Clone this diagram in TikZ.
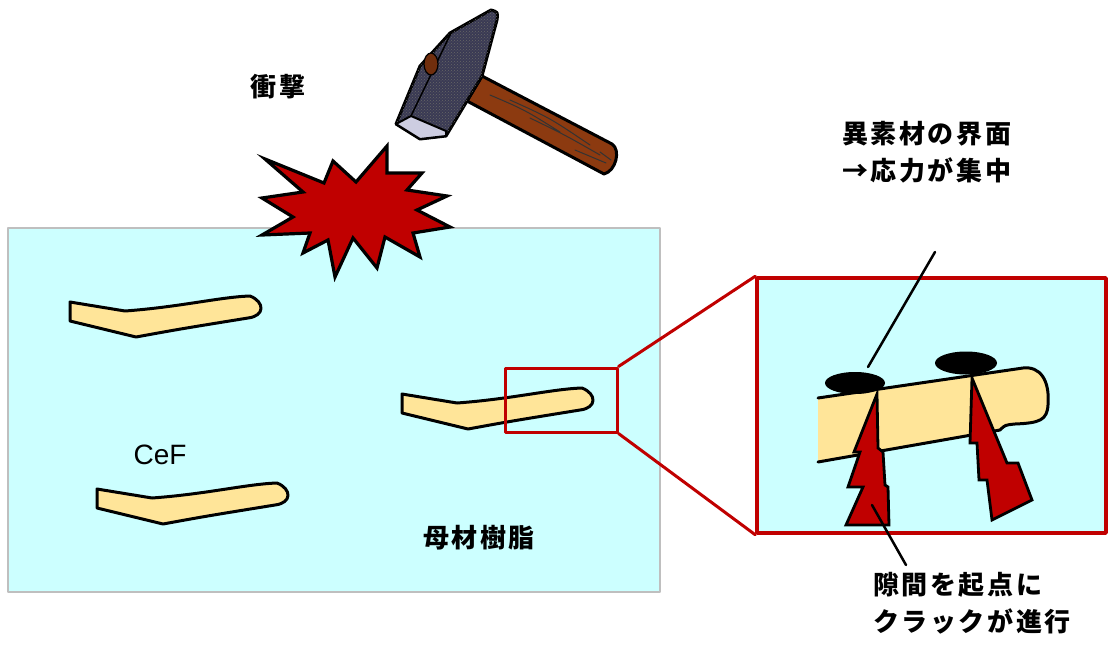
\documentclass[tikz,border=0pt]{standalone}
\usepackage{fontspec}
\setsansfont{Liberation Sans}
\newfontfamily\jp[LetterSpace=10]{Noto Sans CJK JP}
\usetikzlibrary{patterns}
\definecolor{resin}{RGB}{204,255,255}
\definecolor{fibrefill}{RGB}{255,229,153}
\definecolor{crackred}{RGB}{192,0,0}
\definecolor{wood}{RGB}{140,58,16}
\definecolor{steel}{RGB}{58,58,84}
\definecolor{hface}{RGB}{205,205,225}
\tikzset{
  fibreline/.style={draw,line width=3pt,fill=fibrefill},
  crack/.style={draw,line width=2.8pt,fill=crackred,line join=miter},
  lbl/.style={font=\jp\bfseries\fontsize{26}{37}\selectfont,inner sep=0pt,align=left},
  zoomline/.style={draw=crackred,line width=3pt},
  fibre/.pic={\draw[fibreline] (0,0) -- (0,19) -- (66,35) .. controls (110,27) .. (178,16)
    .. controls (195,14) and (195,0) .. (180,-6) .. controls (150,-5) and (110,5) .. (55,9) -- cycle;}
}
\begin{document}
\begin{tikzpicture}[x=1pt,y=-1pt,line cap=round,line join=round]
\useasboundingbox (0,0) rectangle (1108,645);
% matrix resin with fibres
\draw[fill=resin,draw=black!25,line width=2.5pt] (8,228) rectangle (660,592);
\pic at (70,302) {fibre};
\pic at (97,489) {fibre};
\pic at (402,394) {fibre};
\node[font=\sffamily\fontsize{28}{30}\selectfont] (cef) at (160,455) {CeF};
\node[lbl] (matrix) at (479,538) {母材樹脂};
% impact burst
\draw[crack,line width=3.2pt] (265,159) -- (324,183) -- (333,161) -- (356,182) -- (387,146) -- (387,173)
  -- (422,173) -- (407,190) -- (447,196) -- (417,210) -- (450,227) -- (413,233) -- (420,257)
  -- (385,237) -- (377,268) -- (353,238) -- (335,277) -- (328,240) -- (303,253) -- (310,233)
  -- (262,235) -- (293,217) -- (262,198) -- (303,192) -- cycle;
\node[lbl] (impact) at (278,87) {衝撃};
% hammer
\draw[fill=wood,line width=3pt] (482,76) -- (612,144) .. controls (621,150) and (616,171) .. (604,174) -- (467,101) -- cycle;
\draw[black!80,line width=1pt] (490,95) .. controls (525,110) .. (560,132) (510,100) .. controls (550,118) .. (590,145)
  (530,118) .. controls (565,135) .. (600,155) (575,150) .. controls (590,156) .. (606,163) (600,152) -- (611,160);
\draw[fill=steel,line width=3pt,postaction={pattern=crosshatch dots,pattern color=black!60}]
  (491,10) .. controls (498,12) .. (497,20) -- (482,76) -- (446,136) -- (420,139) -- (396,124) -- (420,66) -- (450,33) -- cycle;
\draw[fill=hface,line width=2pt] (396,124) -- (411,116) -- (446,131) -- (446,136) -- (420,139) -- cycle;
\draw[line width=1.5pt] (451,33) -- (411,116);
\draw[fill=wood!80!black,line width=1.2pt] (431,64) ellipse (7 and 11);
% close-up of the fibre surface
\node[draw=crackred,line width=3pt,rectangle,minimum width=112pt,minimum height=64pt] (spot) at (561,400) {};
\node[draw=crackred,fill=resin,line width=3.5pt,rectangle,minimum width=349pt,minimum height=255pt] (inset) at (931.5,405.5) {};
\draw[zoomline] (spot.north east) -- (inset.north west);
\draw[zoomline] (spot.south east) -- (inset.south west);
\fill[fibrefill] (818,398) -- (1023,368) .. controls (1040,366) and (1050,380) .. (1048,405) .. controls (1047,420) and (1040,423) .. (1015,424)
  .. controls (1005,425) .. (1000,430) -- (818,462) -- cycle;
\draw[line width=3pt] (818,398) -- (1023,368) .. controls (1040,366) and (1050,380) .. (1048,405) .. controls (1047,420) and (1040,423) .. (1015,424)
  .. controls (1005,425) .. (1000,430) -- (818,462);
\fill (855,383) ellipse (30 and 11) (966,363) ellipse (31 and 11.5);
\draw[crack] (877,394) -- (878,448) -- (883,452) -- (885,485) -- (888,487) -- (889,525) -- (846,525) -- (863,487)
  -- (848,487) -- (860,452) -- (854,452) -- cycle;
\draw[crack] (972,378) -- (1007,463) -- (1018,463) -- (1032,500) -- (992,520) -- (987,480) -- (979,480)
  -- (977,443) -- (970,443) -- cycle;
% labels with leaders
\node[lbl,anchor=west] (iface) at (842,152) {異素材の界面\\→応力が集中};
\node[lbl,anchor=west] (gap) at (873,603) {隙間を起点に\\クラックが進行};
\coordinate (ifaceend) at (935,252);
\coordinate (ifacetip) at (868,367);
\coordinate (gapend) at (906,565);
\coordinate (gaptip) at (872,505);
\draw[line width=2.5pt] (ifaceend) -- (ifacetip) (gapend) -- (gaptip);
\end{tikzpicture}
\end{document}
